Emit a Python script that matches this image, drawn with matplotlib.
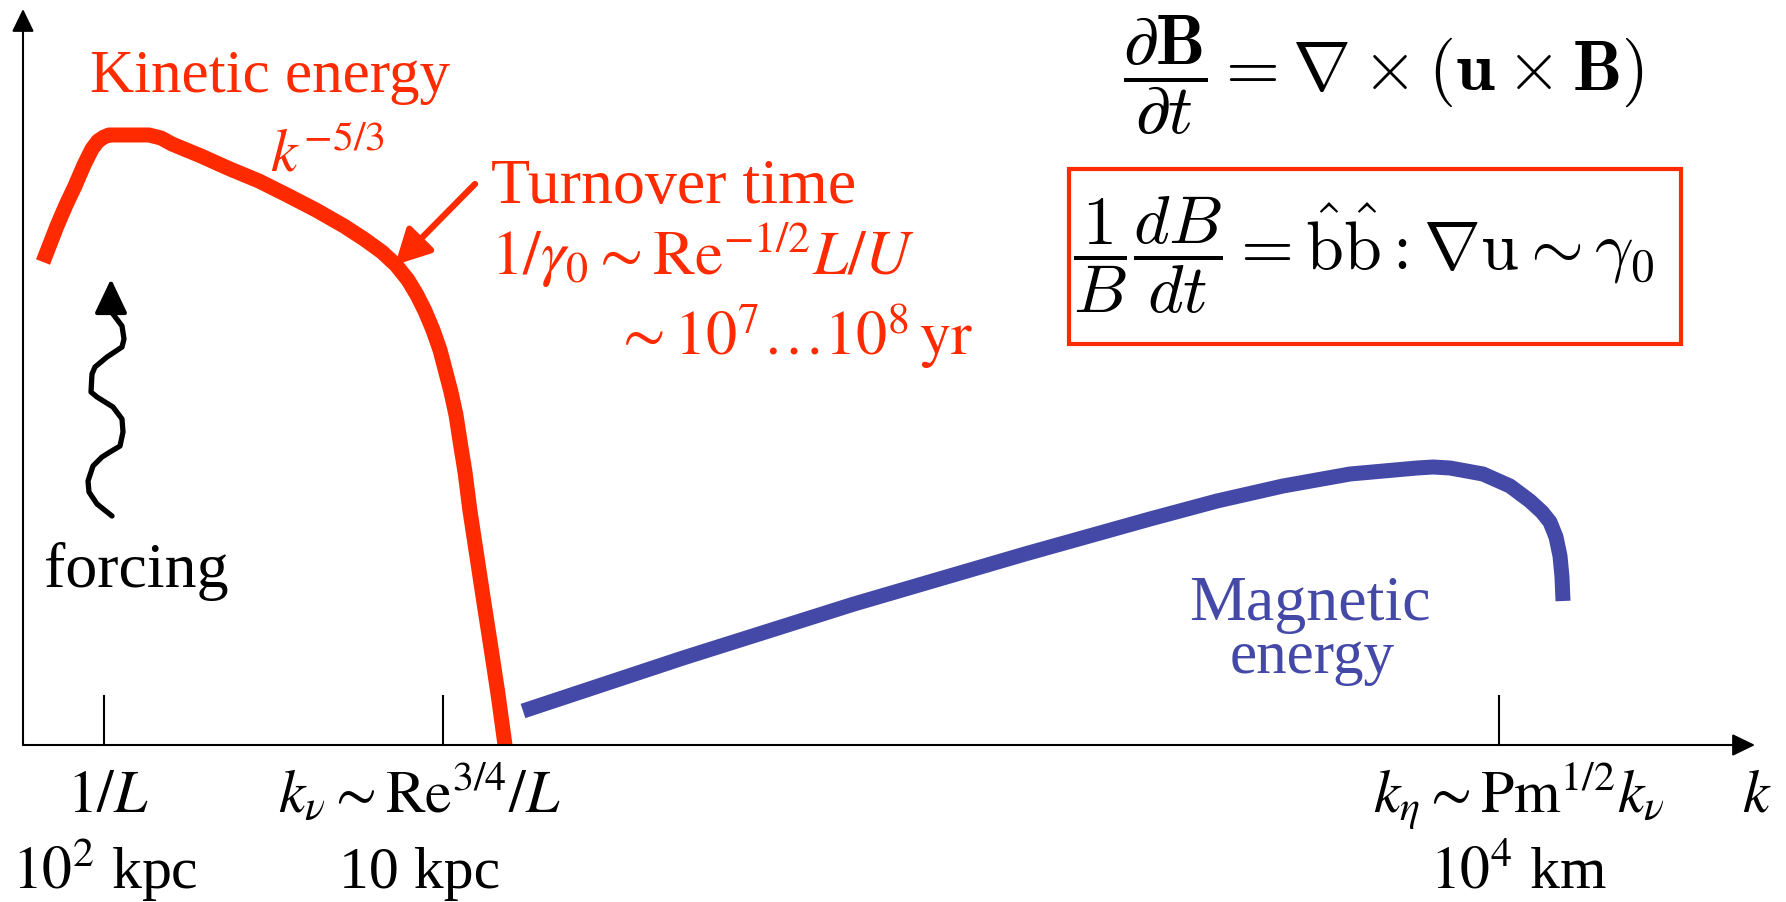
import numpy as np
import matplotlib.pyplot as plt
from matplotlib.patches import Rectangle

plt.rcParams['font.family'] = ['Liberation Serif', 'DejaVu Serif']

### Spectres schematiques (k horizontal, energie verticale, unites arbitraires)

k_cin = [20, 27, 34, 43, 52, 61, 69, 75, 81, 86, 126, 138, 149, 178, 207, 236, 264, 293, 321,
         341, 359, 373, 385, 394, 402, 410, 417, 422, 428, 433, 437, 442, 447, 454, 461, 468, 475, 482]
E_cin = [483, 501, 519, 540, 559, 580, 596, 604, 608, 610, 610, 607, 601, 589, 576, 564, 550, 535, 519,
         506, 493, 480, 465, 450, 434, 415, 395, 376, 353, 330, 304, 273, 234, 188, 142, 97, 51, 0]

k_mag = [500, 660, 831, 1002, 1127, 1194, 1260, 1327, 1394, 1410, 1427, 1460, 1487, 1507,
         1519, 1527, 1533, 1537, 1539, 1540]
E_mag = [34, 87, 141, 191, 226, 244, 259, 271, 277, 278, 277, 271, 259, 244,
         233, 223, 208, 189, 168, 144]

### Fleche ondulee du forcage (de bas en haut)

k_forc = [89, 74, 66, 65, 70, 79, 87, 97, 100, 99, 90, 74, 68, 69, 72, 84, 99, 101, 99, 90, 88]
E_forc = [229, 241, 253, 264, 279, 288, 293, 299, 313, 326, 338, 348, 353, 371, 378, 388, 398, 406, 419, 431, 434]
forc_tip = (88, 466)

### Echelles caracteristiques

k_ticks = [81, 420, 1476]
tick_labels = [r'$1/L$', r'$k_\nu \sim \mathrm{Re}^{3/4}/L$', r'$k_\eta \sim \mathrm{Pm}^{1/2}k_\nu$']
scale_labels = [r'$10^2$ kpc', '10 kpc', r'$10^4$ km']
label_x = [85, 396, 1496]
scale_x = [82, 397, 1495]

rouge = '#ff2a00'
bleu = '#4449a8'
fs = 43


################# Figure #################

fig = plt.figure(figsize=(17.86, 9.03), dpi=100)
ax = fig.add_axes([0, 0, 1, 1])
ax.set_xlim(-23, 1763)
ax.set_ylim(-157, 746)
ax.axis('off')

# axes avec fleches
axe = dict(arrowstyle='-|>,head_length=14,head_width=6.8', mutation_scale=1,
           lw=1.5, color='black', shrinkA=0, shrinkB=0)
ax.annotate('', xy=(0, 736), xytext=(0, 0), arrowprops=axe)
ax.annotate('', xy=(1732, 0), xytext=(0, 0), arrowprops=axe)
for k in k_ticks:
    ax.plot([k, k], [0, 49], color='black', lw=1.5)

# spectres
ax.plot(k_cin, E_cin, color=rouge, lw=10.8, solid_capstyle='butt', solid_joinstyle='round')
ax.plot(k_mag, E_mag, color=bleu, lw=10.8, solid_capstyle='butt', solid_joinstyle='round')

# forcage
ax.plot(k_forc, E_forc, color='black', lw=3.8, solid_joinstyle='round', solid_capstyle='round')
ax.annotate('', xy=forc_tip, xytext=(k_forc[-1], E_forc[-1]),
            arrowprops=dict(arrowstyle='-|>,head_length=21,head_width=10', mutation_scale=1,
                            lw=3, color='black', shrinkA=0, shrinkB=0))
ax.text(21, 159, 'forcing', fontsize=46, color='black', ha='left', va='baseline')

# annotations energie cinetique
ax.text(67, 654, 'Kinetic energy', fontsize=44, color=rouge, ha='left', va='baseline')
ax.text(247, 574, r'$k^{-5/3}$', fontsize=fs, color=rouge, ha='left', va='baseline',
        math_fontfamily='stix')
ax.annotate('', xy=(372, 480), xytext=(452, 561),
            arrowprops=dict(arrowstyle='-|>,head_length=21,head_width=11', mutation_scale=1,
                            lw=4.5, color=rouge, shrinkA=0, shrinkB=0))
ax.text(468, 543, 'Turnover time', fontsize=46, color=rouge, ha='left', va='baseline')
ax.text(468, 471, r'$1/\gamma_0 \sim \mathrm{Re}^{-1/2}L/U$', fontsize=45.4, color=rouge,
        ha='left', va='baseline', math_fontfamily='stix')
ax.text(591, 391, r'$\sim 10^7\ldots 10^8\,\mathrm{yr}$', fontsize=44.7, color=rouge,
        ha='left', va='baseline', math_fontfamily='stix')

# energie magnetique
ax.text(1287, 126, 'Magnetic', fontsize=46, color=bleu, ha='center', va='baseline')
ax.text(1289, 73, 'energy', fontsize=44, color=bleu, ha='center', va='baseline')

# labels de l'axe k
for x, lab in zip(label_x, tick_labels):
    ax.text(x, -66, lab, fontsize=fs, ha='center', va='baseline', math_fontfamily='stix')
for x, lab in zip(scale_x, scale_labels):
    ax.text(x, -142, lab, fontsize=fs, ha='center', va='baseline', math_fontfamily='stix')
ax.text(1734, -66, r'$k$', fontsize=fs, ha='center', va='baseline', math_fontfamily='stix')

# equation d'induction
ax.text(1360, 671, r'$\dfrac{\partial \mathbf{B}}{\partial t} = \nabla \times (\mathbf{u} \times \mathbf{B})$',
        fontsize=50, ha='center', va='center', math_fontfamily='cm')
ax.text(1340, 491, r'$\dfrac{1}{B}\dfrac{dB}{dt} = \hat{\mathrm{b}}\hat{\mathrm{b}} : \nabla\mathrm{u} \sim \gamma_0$',
        fontsize=49, ha='center', va='center', math_fontfamily='cm')
ax.add_patch(Rectangle((1046, 401), 612, 175, fill=False, edgecolor=rouge, lw=3))

plt.savefig('out.png', dpi=100)
